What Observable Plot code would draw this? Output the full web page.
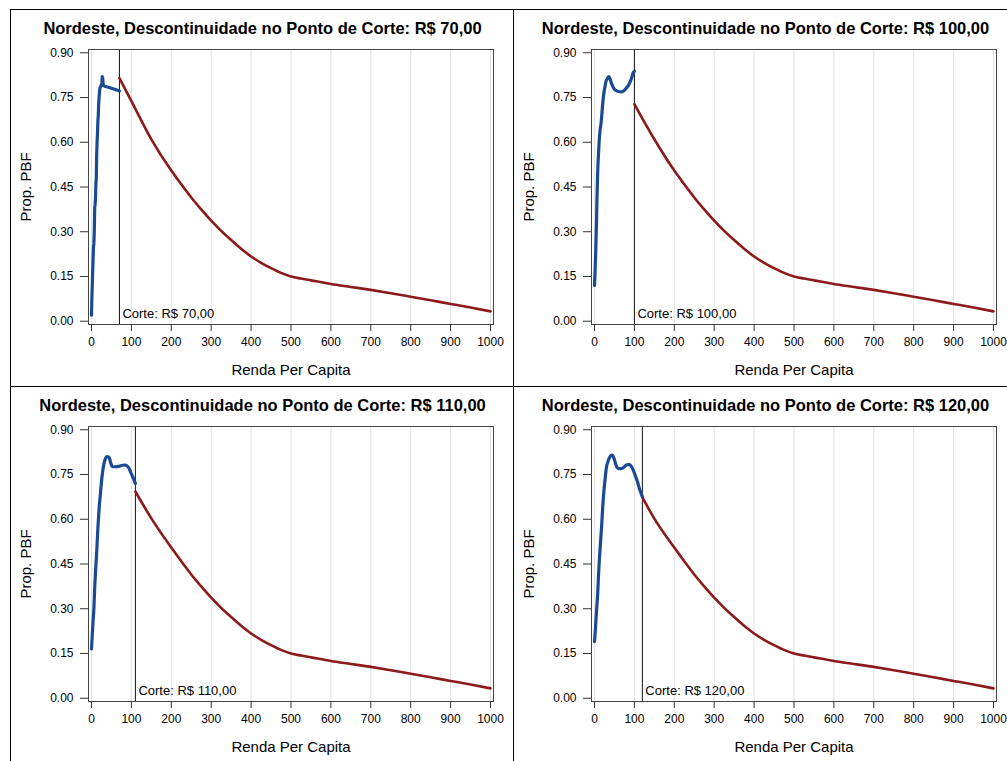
<!DOCTYPE html>
<html><head><meta charset="utf-8">
<script src="https://cdn.jsdelivr.net/npm/d3@7"></script>
<script src="https://cdn.jsdelivr.net/npm/@observablehq/plot@0.6"></script>
<style>
body{margin:0;background:#fff;}
#root{position:relative;width:1007px;height:761px;overflow:hidden;font-family:"Liberation Sans",Arial,sans-serif;}
.panel{position:absolute;width:503px;height:377px;border-top:1px solid #000;border-left:1px solid #000;}
.title{position:absolute;left:0;width:503px;top:10px;text-align:center;font-weight:bold;font-size:16.5px;line-height:1;white-space:nowrap;color:#000;}
.panel svg{position:absolute;left:0;top:0;}
</style></head><body><div id="root"></div>
<script>
// ---- data ----
const cutoffs = [70, 100, 110, 120];
const cutoffLabels = ["R$ 70,00", "R$ 100,00", "R$ 110,00", "R$ 120,00"];
const xTicks = [0, 100, 200, 300, 400, 500, 600, 700, 800, 900, 1000];
const yTicks = [0, 0.15, 0.30, 0.45, 0.60, 0.75, 0.90];

// blue (below cutoff) curves
const blueX70 = [0, 1, 2, 3, 4, 5, 6, 7, 8, 9, 10, 11, 12, 13, 14, 15, 16, 17, 18, 19, 20, 21, 22, 24, 26, 27, 28, 29, 30, 33, 40, 50, 60, 70];
const blueY70 = [0.02, 0.08, 0.12, 0.17, 0.21, 0.25, 0.26, 0.30, 0.38, 0.39, 0.41, 0.46, 0.48, 0.56, 0.60, 0.63, 0.67, 0.69, 0.73, 0.75, 0.77, 0.78, 0.785, 0.79, 0.795, 0.82, 0.815, 0.80, 0.79, 0.788, 0.785, 0.781, 0.777, 0.772];
const blueX100 = [0, 1, 2, 3, 4, 5, 6, 7, 8, 10, 12, 14, 17, 20, 23, 26, 29, 33, 36, 39, 42, 46, 50, 55, 60, 67, 73, 80, 86, 90, 94, 97, 100];
const blueY100 = [0.12, 0.15, 0.19, 0.23, 0.28, 0.33, 0.40, 0.45, 0.50, 0.56, 0.61, 0.64, 0.67, 0.72, 0.76, 0.785, 0.805, 0.815, 0.82, 0.813, 0.80, 0.787, 0.778, 0.773, 0.770, 0.769, 0.772, 0.782, 0.793, 0.805, 0.82, 0.833, 0.838];
const blueX110 = [0, 2, 4, 6, 8, 10, 13, 16, 19, 22, 25, 28, 31, 34, 37, 40, 43, 46, 49, 52, 56, 62, 70, 78, 84, 88, 92, 96, 100, 104, 108, 110];
const blueY110 = [0.165, 0.215, 0.26, 0.30, 0.37, 0.42, 0.49, 0.57, 0.635, 0.68, 0.725, 0.76, 0.785, 0.80, 0.808, 0.81, 0.809, 0.80, 0.785, 0.777, 0.776, 0.776, 0.778, 0.781, 0.782, 0.780, 0.775, 0.765, 0.752, 0.740, 0.727, 0.72];
const blueX120 = [0, 2, 4, 6, 8, 10, 12, 15, 18, 21, 24, 27, 30, 33, 36, 40, 44, 47, 50, 53, 56, 60, 65, 70, 76, 82, 87, 92, 96, 100, 104, 108, 112, 116, 120];
const blueY120 = [0.19, 0.225, 0.27, 0.31, 0.35, 0.41, 0.46, 0.52, 0.58, 0.65, 0.70, 0.74, 0.775, 0.79, 0.802, 0.812, 0.815, 0.81, 0.80, 0.785, 0.775, 0.77, 0.770, 0.771, 0.777, 0.783, 0.783, 0.778, 0.768, 0.755, 0.74, 0.725, 0.705, 0.69, 0.675];

// red (above cutoff) curves: panel-specific start + common tail
const redHeadX70 = [70, 100, 150];
const redHeadY70 = [0.815, 0.738, 0.610];
const redHeadX100 = [100, 150];
const redHeadY100 = [0.728, 0.610];
const redHeadX110 = [110, 150];
const redHeadY110 = [0.693, 0.603];
const redHeadX120 = [120, 150];
const redHeadY120 = [0.674, 0.602];
const redTailX = [200, 225, 250, 275, 300, 325, 350, 375, 400, 425, 450, 475, 500, 525, 550, 600, 650, 700, 750, 800, 850, 900, 950, 1000];
const redTailY = [0.505, 0.459, 0.415, 0.375, 0.337, 0.303, 0.272, 0.243, 0.217, 0.196, 0.178, 0.162, 0.150, 0.143, 0.137, 0.125, 0.115, 0.105, 0.094, 0.082, 0.070, 0.058, 0.046, 0.033];

// ---- build ----
const blueXs = [blueX70, blueX100, blueX110, blueX120];
const blueYs = [blueY70, blueY100, blueY110, blueY120];
const redHXs = [redHeadX70, redHeadX100, redHeadX110, redHeadX120];
const redHYs = [redHeadY70, redHeadY100, redHeadY110, redHeadY120];
const positions = [[10, 9], [513, 9], [10, 386], [513, 386]];
const zip = (xs, ys) => xs.map((x, i) => ({x, y: ys[i]}));

const root = document.getElementById("root");
cutoffs.forEach((cut, i) => {
  const panel = document.createElement("div");
  panel.className = "panel";
  panel.style.left = positions[i][0] + "px";
  panel.style.top = positions[i][1] + "px";
  const blue = zip(blueXs[i], blueYs[i]);
  const red = zip(redHXs[i].concat(redTailX), redHYs[i].concat(redTailY));
  const chart = Plot.plot({
    width: 503, height: 377,
    marginLeft: 77, marginRight: 21, marginTop: 39, marginBottom: 63,
    style: {fontFamily: "'Liberation Sans', Arial, sans-serif", fontSize: "12px", background: "transparent", color: "#000", overflow: "visible"},
    x: {domain: [-7.5, 1007.5]},
    y: {domain: [-0.011, 0.911]},
    marks: [
      Plot.gridX(xTicks, {stroke: "#e2e2e2", strokeOpacity: 1}),
      Plot.ruleX([cut], {stroke: "#111", strokeWidth: 1}),
      Plot.line(red, {x: "x", y: "y", stroke: "#8c1a1a", strokeWidth: 2.6, curve: "monotone-x"}),
      Plot.line(blue, {x: "x", y: "y", stroke: "#1b4a94", strokeWidth: 3.2, curve: i === 0 ? "linear" : "monotone-x"}),
      Plot.text(["Corte: " + cutoffLabels[i]], {x: [cut], frameAnchor: "bottom", textAnchor: "start", lineAnchor: "bottom", dx: 3, dy: -7, fontSize: 13, fill: "#000"}),
      Plot.frame({stroke: "#444"}),
      Plot.axisX(xTicks, {tickSize: 7, tickPadding: 6, tickFormat: d => String(d), label: null, stroke: "#333"}),
      Plot.axisY(yTicks, {tickSize: 8, tickPadding: 7, tickFormat: d3.format(".2f"), label: null, stroke: "#333"}),
      Plot.text(["Renda Per Capita"], {frameAnchor: "bottom", lineAnchor: "bottom", dy: 50, fontSize: 15, fill: "#000"}),
      Plot.text(["Prop. PBF"], {frameAnchor: "left", textAnchor: "middle", rotate: -90, dx: -62, fontSize: 15, fill: "#000"})
    ]
  });
  panel.appendChild(chart);
  const title = document.createElement("div");
  title.className = "title";
  title.textContent = "Nordeste, Descontinuidade no Ponto de Corte: " + cutoffLabels[i];
  panel.appendChild(title);
  root.appendChild(panel);
});
</script>
</body></html>
